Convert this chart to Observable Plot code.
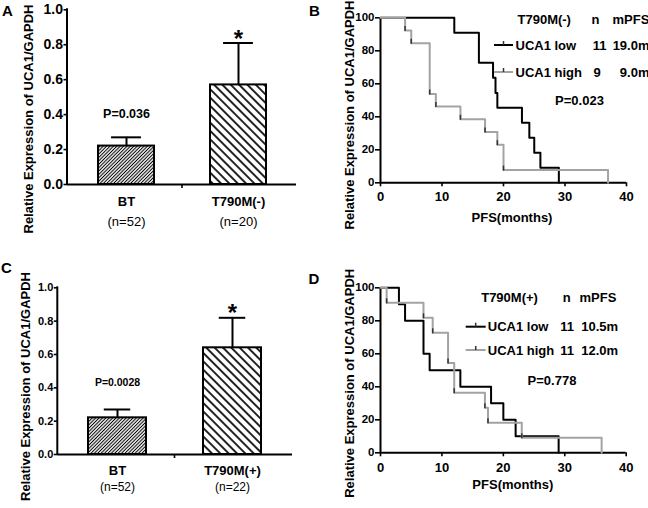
<!DOCTYPE html>
<html><head><meta charset="utf-8">
<script src="https://cdn.jsdelivr.net/npm/d3@7"></script>
<script src="https://cdn.jsdelivr.net/npm/@observablehq/plot@0.6"></script>
<style>
body{margin:0;background:#fff;}
#fig{position:relative;width:648px;height:508px;overflow:hidden;background:#fff;}
.panel{position:absolute;width:324px;height:254px;}
#letters{position:absolute;left:0;top:0;pointer-events:none;}
</style></head><body>
<svg width="0" height="0" style="position:absolute">
<defs>
<pattern id="hatch-dense" patternUnits="userSpaceOnUse" width="2.4" height="2.4" patternTransform="rotate(45)">
<line x1="1.2" y1="-1" x2="1.2" y2="3.4" stroke="#000" stroke-width="1.05"/>
</pattern>
<pattern id="hatch-sparse" patternUnits="userSpaceOnUse" width="5.9" height="5.9" patternTransform="rotate(-45)">
<line x1="2.95" y1="-1" x2="2.95" y2="6.9" stroke="#000" stroke-width="1.7"/>
</pattern>
</defs></svg>
<div id="fig"></div>
<script>
// ---------- data ----------
const barGroupsA = ["BT", "T790M(-)"];
const barMeansA = [0.22, 0.57];
const barUpperA = [0.27, 0.81];
const barNA = ["(n=52)", "(n=20)"];
const pValueA = "P=0.036";

const barGroupsC = ["BT", "T790M(+)"];
const barMeansC = [0.22, 0.64];
const barUpperC = [0.27, 0.82];
const barNC = ["(n=52)", "(n=22)"];
const pValueC = "P=0.0028";

const yTicksBar = [0, 0.2, 0.4, 0.6, 0.8, 1.0];
const kmTicksX = [0, 10, 20, 30, 40];
const kmTicksY = [0, 20, 40, 60, 80, 100];

const legendGroups = ["UCA1 low", "UCA1 high"];
const bTitle = "T790M(-)";
const bCounts = ["11", "9"];
const bMedians = ["19.0m", "9.0m"];
const bP = "P=0.023";
const dTitle = "T790M(+)";
const dCounts = ["11", "11"];
const dMedians = ["10.5m", "12.0m"];
const dP = "P=0.778";

const bLowTime = [0, 12, 16, 18.3, 18.7, 19, 23, 24.2, 25, 26, 29];
const bLowSurv = [100, 90.9, 72.7, 63.6, 54.5, 45.5, 36.4, 27.3, 18.2, 9.1, 0];
const bHighTime = [0, 4, 5, 8, 9, 13, 17, 19, 20, 37];
const bHighSurv = [100, 92.3, 84.6, 53.8, 46.2, 38.5, 30.8, 23.1, 7.7, 0];

const dLowTime = [0, 3, 4, 7, 8, 13, 18, 20, 22, 29];
const dLowSurv = [100, 90, 80, 60, 50, 40, 30, 20, 10, 0];
const dHighTime = [0, 1, 7, 8.5, 11, 12, 17, 17.5, 23, 36];
const dHighSurv = [100, 90.9, 81.8, 72.7, 54.5, 36.4, 27.3, 18.2, 9.1, 0];

const yLabelText = "Relative Expression of UCA1/GAPDH";
const xLabelText = "PFS(months)";

// ---------- style ----------
const FONT = '"Liberation Sans", Arial, Helvetica, sans-serif';
const hatchFills = ["url(#hatch-dense)", "url(#hatch-sparse)"];
const GRAY = "#a3a3a3";
const baseStyle = {fontFamily: FONT, fontSize: "13px", fontWeight: "bold", background: "transparent", color: "black"};

const fig = document.getElementById("fig");
function place(el, left, top) {
  const d = document.createElement("div");
  d.className = "panel"; d.style.left = left + "px"; d.style.top = top + "px";
  d.appendChild(el); fig.appendChild(d);
}
function label(m, text, px, py, opts = {}) {
  return Plot.text([text], {frameAnchor: "top-left", dx: px - m.l, dy: py - m.t, text: d => d,
    textAnchor: "middle", lineAnchor: "middle", ...opts});
}

// ---------- bar panels ----------
function barPanel(cfg) {
  const {groups, means, upper, ns, pText, m, tickFont, pFont, nFont, catDy, nDy, pDy, starDy, capWidth, ylab} = cfg;
  const rows = groups.map((g, i) => ({group: g, mean: means[i], upper: upper[i], n: ns[i]}));
  const pi = 0.5, po = 0.27;
  const range = 324 - m.l - m.r;
  const step = range / (groups.length - pi + 2 * po);
  const inset = (step * (1 - pi) - capWidth) / 2;
  const svg = Plot.plot({
    width: 324, height: 254,
    marginLeft: m.l, marginRight: m.r, marginTop: m.t, marginBottom: m.b,
    style: baseStyle,
    x: {domain: groups, paddingInner: pi, paddingOuter: po, axis: null},
    y: {domain: [0, 1], axis: null},
    color: {type: "identity"},
    marks: [
      Plot.barY(rows, {x: "group", y: "mean", fill: (d, i) => hatchFills[i], stroke: "black", strokeWidth: 2}),
      Plot.ruleX(rows, {x: "group", y1: "mean", y2: "upper", stroke: "black", strokeWidth: 2}),
      Plot.tickY(rows, {x: "group", y: "upper", stroke: "black", strokeWidth: 2, insetLeft: inset, insetRight: inset}),
      Plot.ruleY([0], {stroke: "black", strokeWidth: 2}),
      Plot.axisY({ticks: yTicksBar, tickFormat: d3.format(".1f"), tickSize: 3.5, tickPadding: 1, fontSize: tickFont, strokeWidth: 1.6, label: null}),
      Plot.text(rows, {x: "group", y: 0, text: "group", dy: catDy, lineAnchor: "middle"}),
      Plot.text(rows, {x: "group", y: 0, text: "n", dy: nDy, lineAnchor: "middle", fontWeight: "normal", fontSize: nFont}),
      Plot.text(rows.slice(0, 1), {x: "group", y: "upper", text: () => pText, dy: pDy, lineAnchor: "middle", fontSize: pFont}),
      Plot.text(rows.slice(1), {x: "group", y: "upper", text: () => "*", dy: starDy, lineAnchor: "middle", fontSize: 24}),
      label(m, yLabelText, ylab[0], ylab[1], {rotate: -90})
    ]
  });
  // y-axis line and the middle tick on the x axis, from the plot's own scales
  const sx = svg.scale("x");
  const g = d3.select(svg).append("g").attr("stroke", "black").attr("stroke-width", 2);
  g.append("line").attr("x1", m.l).attr("x2", m.l).attr("y1", m.t - 1).attr("y2", 254 - m.b + 1);
  const mid = (sx.apply(groups[0]) + sx.bandwidth + sx.apply(groups[1])) / 2;
  g.append("line").attr("x1", mid).attr("x2", mid).attr("y1", 254 - m.b).attr("y2", 254 - m.b + 4).attr("stroke-width", 1.6);
  return svg;
}

// ---------- KM panels ----------
const censorTick = {draw(context) { context.moveTo(0, 0.5); context.lineTo(0, -4.5); }};
function kmPanel(cfg) {
  const {lowT, lowS, highT, highS, m, title, counts, medians, pText, pos, xPad, ylab, xlab} = cfg;
  const low = lowT.map((t, i) => ({t, s: lowS[i]}));
  const high = highT.map((t, i) => ({t, s: highS[i]}));
  const censored = high.slice(1, -1);
  const marks = [
    Plot.axisY({ticks: kmTicksY, tickSize: 5, tickPadding: 1, fontSize: 11.5, strokeWidth: 1.6, label: null}),
    Plot.axisX({ticks: kmTicksX, tickSize: 4, tickPadding: xPad, fontSize: 13, strokeWidth: 1.6, label: null}),
    Plot.ruleX([0], {y1: 0, y2: 100, stroke: "black", strokeWidth: 2}),
    Plot.ruleY([0], {x1: 0, x2: 40, stroke: "black", strokeWidth: 2}),
    Plot.line(low, {x: "t", y: "s", curve: "step-after", stroke: "black", strokeWidth: 2}),
    Plot.line(high, {x: "t", y: "s", curve: "step-after", stroke: GRAY, strokeWidth: 2}),
    Plot.dot(censored, {x: "t", y: "s", symbol: censorTick, r: 3, fill: "none", stroke: "#333", strokeWidth: 1.5}),
    label(m, yLabelText, ylab[0], ylab[1], {rotate: -90}),
    label(m, xLabelText, xlab[0], xlab[1]),
    label(m, title, pos.titleX, pos.headY, {textAnchor: "start"}),
    label(m, "n", pos.nX, pos.headY),
    label(m, "mPFS", pos.mX, pos.headY, {textAnchor: "start"}),
    label(m, pText, pos.pX, pos.pY)
  ];
  legendGroups.forEach((grp, i) => {
    marks.push(label(m, grp, pos.textX, pos.rowY[i], {textAnchor: "start"}));
    marks.push(label(m, counts[i], pos.countX[i], pos.rowY[i]));
    marks.push(label(m, medians[i], pos.medX[i], pos.rowY[i], {textAnchor: pos.medAnchor}));
  });
  const svg = Plot.plot({
    width: 324, height: 254,
    marginLeft: m.l, marginRight: m.r, marginTop: m.t, marginBottom: m.b,
    style: baseStyle,
    x: {domain: [0, 40], axis: null},
    y: {domain: [0, 100], axis: null},
    marks
  });
  // legend line samples
  const g = d3.select(svg).append("g").attr("fill", "none").attr("stroke-width", 2);
  [["black", pos.rowY[0]], [GRAY, pos.rowY[1]]].forEach(([c, y]) => {
    g.append("line").attr("x1", pos.lineX[0]).attr("x2", pos.lineX[1]).attr("y1", y).attr("y2", y).attr("stroke", c);
    const xm = (pos.lineX[0] + pos.lineX[1]) / 2;
    g.append("line").attr("x1", xm).attr("x2", xm).attr("y1", y).attr("y2", y - 4).attr("stroke", "#333").attr("stroke-width", 1.5);
  });
  return svg;
}

place(barPanel({
  groups: barGroupsA, means: barMeansA, upper: barUpperA, ns: barNA, pText: pValueA,
  m: {l: 67, r: 28, t: 9.3, b: 70}, tickFont: 14, pFont: 12.5, nFont: 13,
  catDy: 17.7, nDy: 37.7, pDy: -23.8, starDy: -4, capWidth: 30, ylab: [28, 118.5]
}), 0, 0);

place(barPanel({
  groups: barGroupsC, means: barMeansC, upper: barUpperC, ns: barNC, pText: pValueC,
  m: {l: 57.3, r: 32, t: 33.3, b: 54}, tickFont: 11, pFont: 10.5, nFont: 12,
  catDy: 16.7, nDy: 33, pDy: -27, starDy: -4, capWidth: 26, ylab: [25.5, 132]
}), 0, 254);

place(kmPanel({
  lowT: bLowTime, lowS: bLowSurv, highT: bHighTime, highS: bHighSurv,
  m: {l: 56, r: 22, t: 17.3, b: 71.7}, title: bTitle, counts: bCounts, medians: bMedians, pText: bP,
  xPad: 5, ylab: [25, 114.5], xlab: [187.5, 217],
  pos: {titleX: 193, headY: 19, nX: 271, mX: 288, rowY: [45, 72], textX: 191, countX: [275, 272.5],
        medX: [325, 325], medAnchor: "end", pX: 255, pY: 100, lineX: [170, 189]}
}), 324, 0);

place(kmPanel({
  lowT: dLowTime, lowS: dLowSurv, highT: dHighTime, highS: dHighSurv,
  m: {l: 56, r: 22.3, t: 33.3, b: 55.7}, title: dTitle, counts: dCounts, medians: dMedians, pText: dP,
  xPad: 6, ylab: [25, 128.8], xlab: [188.3, 230],
  pos: {titleX: 156.7, headY: 43.5, nX: 242.3, mX: 255, rowY: [72.7, 96], textX: 163.3, countX: [242.5, 242.5],
        medX: [256.7, 256.7], medAnchor: "start", pX: 227.5, pY: 126.5, lineX: [141.7, 161.7]}
}), 324, 254);

// panel letters
const letters = d3.select(fig).append("svg").attr("id", "letters").attr("width", 648).attr("height", 508)
  .style("font-family", FONT).style("font-weight", "bold").style("font-size", "15px");
[["A", 2, 15.5], ["B", 309, 15.5], ["C", 1, 272.5], ["D", 308.5, 284]].forEach(([t, x, y]) => {
  letters.append("text").attr("x", x).attr("y", y).text(t);
});
</script>
</body></html>
